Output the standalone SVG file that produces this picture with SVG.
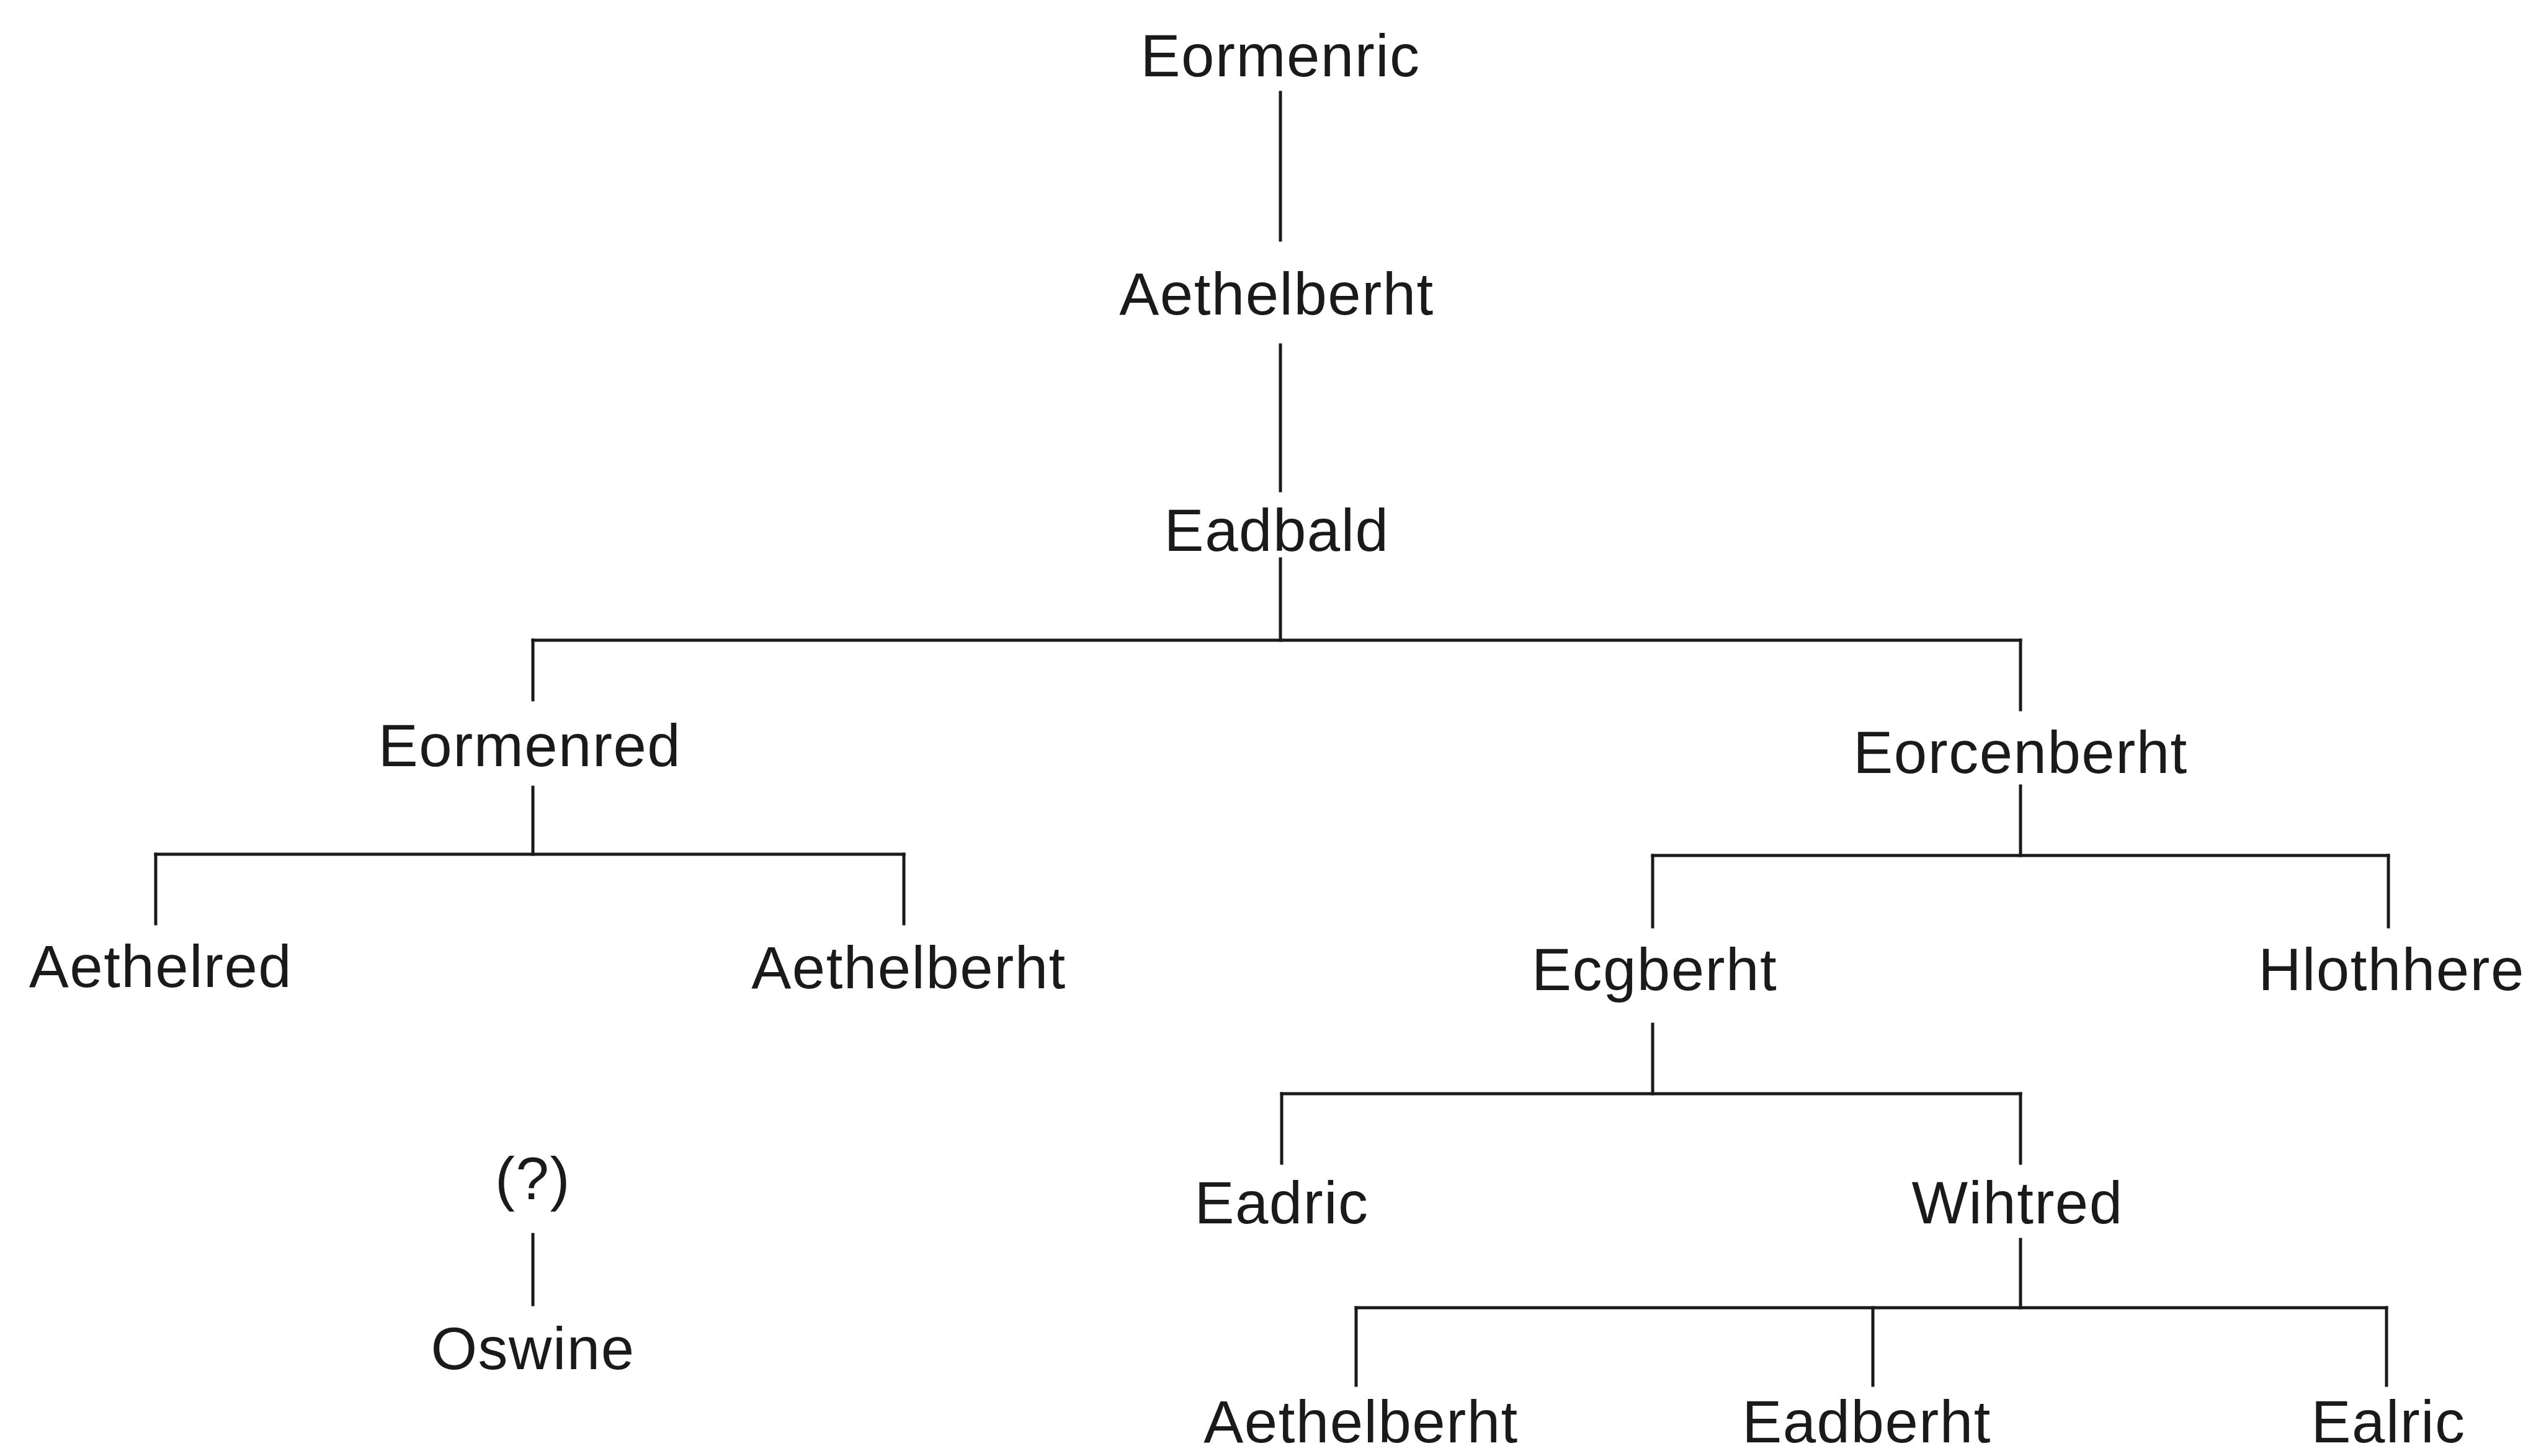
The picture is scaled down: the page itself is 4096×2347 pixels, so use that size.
<svg xmlns="http://www.w3.org/2000/svg" width="4096" height="2347" viewBox="0 0 4096 2347">
<style>
text{font-family:"Liberation Sans",Arial,sans-serif;font-size:96px;letter-spacing:1.5px;fill:#1a1a1a;text-anchor:middle}
.c line{stroke:#1a1a1a;stroke-width:5;stroke-linecap:square}
</style>
<rect width="4096" height="2347" fill="#fff"/>
<g class="c" id="connectors">
<line x1="2064" y1="149" x2="2064" y2="387"/>
<line x1="2064" y1="556" x2="2064" y2="791"/>
<line x1="2064" y1="901" x2="2064" y2="1032"/>
<line x1="859" y1="1032" x2="3257" y2="1032"/>
<line x1="859" y1="1032" x2="859" y2="1128"/>
<line x1="3257" y1="1032" x2="3257" y2="1144"/>
<line x1="859" y1="1269" x2="859" y2="1377"/>
<line x1="251" y1="1377" x2="1457" y2="1377"/>
<line x1="251" y1="1377" x2="251" y2="1489"/>
<line x1="1457" y1="1377" x2="1457" y2="1489"/>
<line x1="3257" y1="1267" x2="3257" y2="1379"/>
<line x1="2664" y1="1379" x2="3850" y2="1379"/>
<line x1="2664" y1="1379" x2="2664" y2="1494"/>
<line x1="3850" y1="1379" x2="3850" y2="1494"/>
<line x1="2664" y1="1651" x2="2664" y2="1763"/>
<line x1="2066" y1="1763" x2="3257" y2="1763"/>
<line x1="2066" y1="1763" x2="2066" y2="1875"/>
<line x1="3257" y1="1763" x2="3257" y2="1875"/>
<line x1="3257" y1="1998" x2="3257" y2="2108"/>
<line x1="2186" y1="2108" x2="3847" y2="2108"/>
<line x1="2186" y1="2108" x2="2186" y2="2233"/>
<line x1="3019" y1="2108" x2="3019" y2="2233"/>
<line x1="3847" y1="2108" x2="3847" y2="2233"/>
<line x1="859" y1="1990" x2="859" y2="2103"/>
</g>
<g id="n-eormenric"><text x="2064" y="123">Eormenric</text></g>
<g id="n-aethelberht1"><text x="2058" y="507">Aethelberht</text></g>
<g id="n-eadbald"><text x="2058" y="888">Eadbald</text></g>
<g id="n-eormenred"><text x="854" y="1235">Eormenred</text></g>
<g id="n-eorcenberht"><text x="3257" y="1246">Eorcenberht</text></g>
<g id="n-aethelred"><text x="259" y="1591">Aethelred</text></g>
<g id="n-aethelberht2"><text x="1465" y="1593">Aethelberht</text></g>
<g id="n-ecgberht"><text x="2667" y="1596">Ecgberht</text></g>
<g id="n-hlothhere"><text x="3855" y="1596">Hlothhere</text></g>
<g id="n-eadric"><text x="2066" y="1972">Eadric</text></g>
<g id="n-wihtred"><text x="3252" y="1972">Wihtred</text></g>
<g id="n-unknown"><text x="859" y="1933">(?)</text></g>
<g id="n-oswine"><text x="859" y="2207">Oswine</text></g>
<g id="n-aethelberht3"><text x="2194" y="2325">Aethelberht</text></g>
<g id="n-eadberht"><text x="3009" y="2325">Eadberht</text></g>
<g id="n-ealric"><text x="3850" y="2325">Ealric</text></g>
</svg>
